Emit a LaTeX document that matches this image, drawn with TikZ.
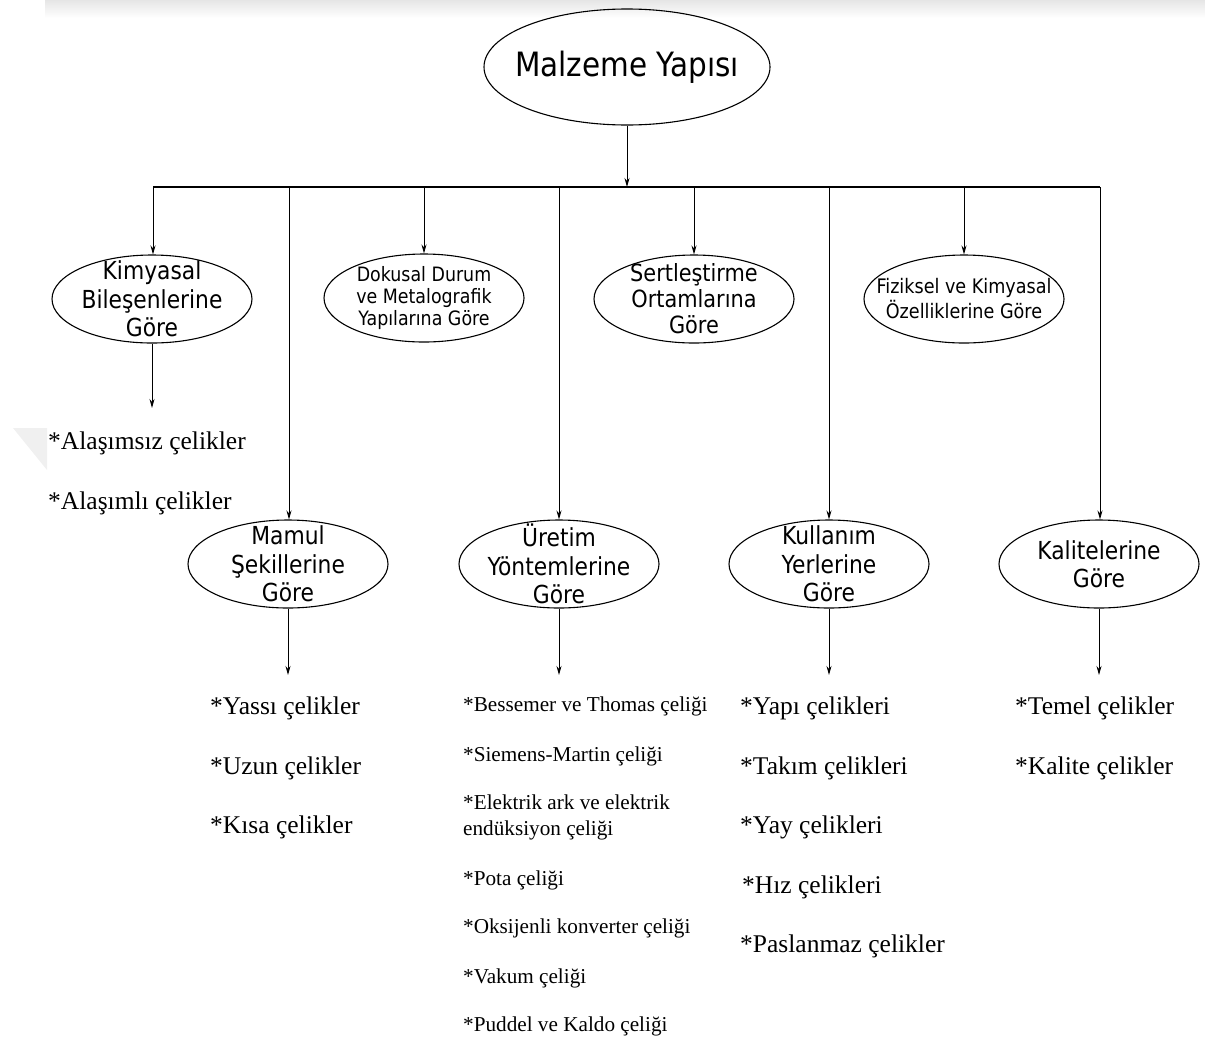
\documentclass[tikz,border=0pt]{standalone}
\usepackage{fontspec}
\setmainfont{Liberation Serif}
\newfontfamily\ellfont{DejaVu Sans}[FakeStretch=0.88]
\usetikzlibrary{shapes.geometric,arrows.meta}
\begin{document}
\begin{tikzpicture}[x=1pt,y=-1pt,
  ell/.style={draw, ellipse, line width=1.1pt, inner sep=0pt, minimum width=200pt, minimum height=88pt},
  elltxt/.style={font=\ellfont\fontsize{24.8}{28.5}\selectfont, align=center, inner sep=0pt},
  ellsm/.style={font=\ellfont\fontsize{19.8}{22}\selectfont, align=center, inner sep=0pt},
  arr/.style={-{Stealth[length=9pt,width=5pt]}, line width=0.9pt},
  item/.style={anchor=west, inner sep=0pt, font=\fontsize{25.5}{30}\selectfont},
  smitem/.style={anchor=west, inner sep=0pt, font=\fontsize{21.2}{26}\selectfont, align=left}]
\useasboundingbox (0,0) rectangle (1205,1042);
% faint screenshot artefacts
\shade[top color=black!10, bottom color=white] (45,0) rectangle (1205,18);
\fill[black!6] (13,428) -- (47,428) -- (47,470) -- cycle;

% root
\node[ell, minimum width=286pt, minimum height=116pt,
  label={[elltxt, font=\ellfont\fontsize{33.5}{38}\selectfont]center:Malzeme Yapısı}] (root) at (627,67) {};

% bus
\coordinate (bus) at (627,187);
\coordinate (b1) at (153,187);
\coordinate (b2) at (289,187);
\coordinate (b3) at (424,187);
\coordinate (b4) at (559,187);
\coordinate (b5) at (694,187);
\coordinate (b6) at (829,187);
\coordinate (b7) at (964,187);
\coordinate (b8) at (1100,187);
\draw[line width=1.4pt] (b1) -- (b8);
\draw[arr] (root.south) -- (bus);

% first row ellipses
\node[ell, label={[elltxt]center:Kimyasal\\Bileşenlerine\\Göre}] (kim) at (152,299) {};
\node[ell, label={[ellsm]center:Dokusal Durum\\ve Metalografik\\Yapılarına Göre}] (dok) at (424,298) {};
\node[ell, label={[elltxt, font=\ellfont\fontsize{23.7}{26}\selectfont]center:Sertleştirme\\Ortamlarına\\Göre}] (ser) at (694,299) {};
\node[ell, label={[ellsm, font=\ellfont\fontsize{20}{25}\selectfont]center:Fiziksel ve Kimyasal\\Özelliklerine Göre}] (fiz) at (964,299) {};

% second row ellipses
\node[ell, label={[elltxt]center:Mamul\\Şekillerine\\Göre}] (mam) at (288,564) {};
\node[ell, label={[elltxt]center:Üretim\\Yöntemlerine\\Göre}] (ure) at (559,564) {};
\node[ell, label={[elltxt]center:Kullanım\\Yerlerine\\Göre}] (kul) at (829,564) {};
\node[ell, label={[elltxt]center:Kalitelerine\\Göre}] (kal) at (1099,564) {};

% bus to ellipses
\draw[arr] (b1) -- (b1 |- kim.north);
\draw[arr] (b2) -- (b2 |- mam.north);
\draw[arr] (b3) -- (b3 |- dok.north);
\draw[arr] (b4) -- (b4 |- ure.north);
\draw[arr] (b5) -- (b5 |- ser.north);
\draw[arr] (b6) -- (b6 |- kul.north);
\draw[arr] (b7) -- (b7 |- fiz.north);
\draw[arr] (b8) -- (b8 |- kal.north);

% leaf arrow ends
\coordinate (kimE) at (152,408);
\coordinate (mamE) at (288,675);
\coordinate (ureE) at (559,675);
\coordinate (kulE) at (829,675);
\coordinate (kalE) at (1099,675);
\draw[arr] (kim.south) -- (kimE);
\draw[arr] (mam.south) -- (mamE);
\draw[arr] (ure.south) -- (ureE);
\draw[arr] (kul.south) -- (kulE);
\draw[arr] (kal.south) -- (kalE);

% lists
\node[item] (k1) at (48,443) {*Alaşımsız çelikler};
\node[item] (k2) at (48,503) {*Alaşımlı çelikler};

\node[item] (m1) at (210,708) {*Yassı çelikler};
\node[item] (m2) at (210,768) {*Uzun çelikler};
\node[item] (m3) at (210,827) {*Kısa çelikler};

\node[smitem] (u1) at (463,706) {*Bessemer ve Thomas çeliği};
\node[smitem] (u2) at (463,756) {*Siemens-Martin çeliği};
\node[smitem] (u3) at (463,817) {*Elektrik ark ve elektrik\\endüksiyon çeliği};
\node[smitem] (u4) at (463,880) {*Pota çeliği};
\node[smitem] (u5) at (463,928) {*Oksijenli konverter çeliği};
\node[smitem] (u6) at (463,978) {*Vakum çeliği};
\node[smitem] (u7) at (463,1026) {*Puddel ve Kaldo çeliği};

\node[item] (y1) at (740,708) {*Yapı çelikleri};
\node[item] (y2) at (740,768) {*Takım çelikleri};
\node[item] (y3) at (740,827) {*Yay çelikleri};
\node[item] (y4) at (742,887) {*Hız çelikleri};
\node[item] (y5) at (740,946) {*Paslanmaz çelikler};

\node[item] (q1) at (1015,708) {*Temel çelikler};
\node[item] (q2) at (1015,768) {*Kalite çelikler};
\end{tikzpicture}
\end{document}
